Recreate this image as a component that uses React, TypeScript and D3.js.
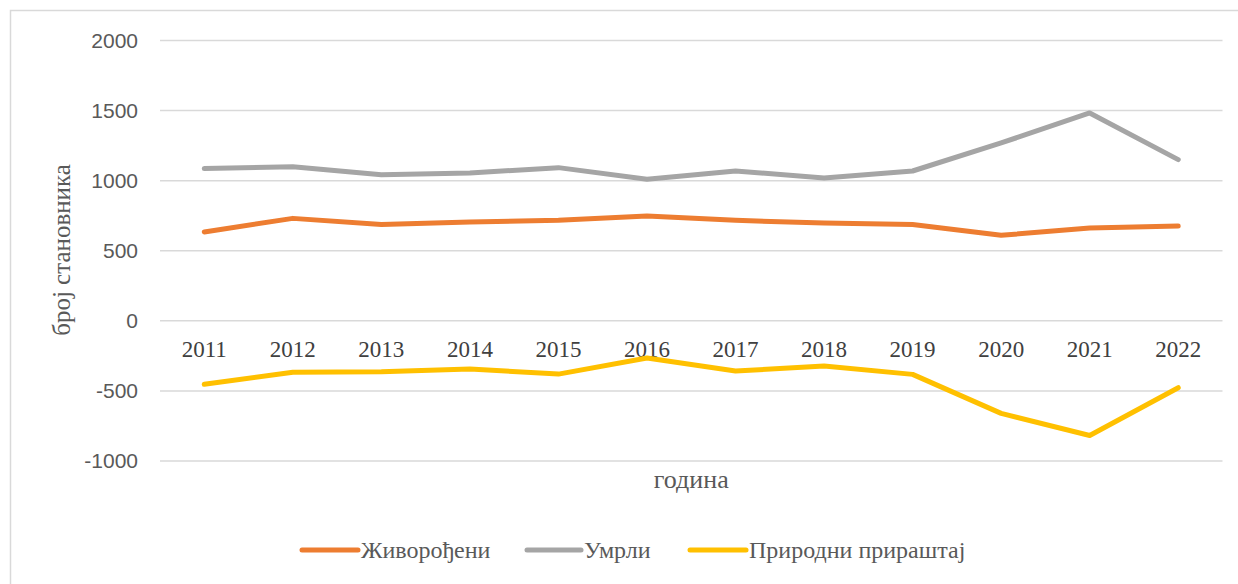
import React from "react";
import * as d3 from "d3";

const years = ["2011","2012","2013","2014","2015","2016","2017","2018","2019","2020","2021","2022"];
const births = [634, 731, 688, 705, 717, 748, 717, 698, 688, 610, 662, 676];
const deaths = [1086, 1100, 1043, 1055, 1093, 1010, 1069, 1019, 1069, 1269, 1483, 1150];
const natural = [-453, -367, -363, -344, -380, -265, -358, -322, -382, -660, -818, -477];
const yTicks = [-1000, -500, 0, 500, 1000, 1500, 2000];
const seriesNames = ["Живорођени", "Умрли", "Природни прираштај"];
const seriesColors = ["#ED7D31", "#A5A5A5", "#FFC000"];
const yTitle = "број становника";
const xTitle = "година";

export default function App() {
  const W = 1238, H = 584;
  const plotL = 160, plotR = 1222.5;
  const x = d3.scaleBand<string>().domain(years).range([plotL, plotR]);
  const y = d3.scaleLinear().domain([-1000, 2000]).range([461, 40.5]);
  const cx = (yr: string) => (x(yr) as number) + x.bandwidth() / 2;
  const line = d3.line<number>().x((_, i) => cx(years[i])).y((v) => y(v));
  const series = [births, deaths, natural];

  const legendItems = [
    { lx1: 302, lx2: 358, tx: 361 },
    { lx1: 527, lx2: 581, tx: 584 },
    { lx1: 690, lx2: 746, tx: 749 },
  ];

  return (
    <svg width={W} height={H} style={{ position: "absolute", left: 0, top: 0, background: "#fff" }}>
      <rect x={10.5} y={10.5} width={1240} height={600} fill="#fff" stroke="#d9d9d9" strokeWidth={1.5} />
      {yTicks.map((t) => (
        <g key={t}>
          <line x1={plotL} x2={plotR} y1={y(t)} y2={y(t)} stroke="#d9d9d9" strokeWidth={1.5} />
          <text x={138} y={y(t)} dy="0.35em" textAnchor="end" fontFamily="Liberation Sans, Arial, sans-serif" fontSize={21} fill="#595959">{t}</text>
        </g>
      ))}
      {years.map((yr) => (
        <text key={yr} x={cx(yr)} y={357} textAnchor="middle" fontFamily="Liberation Serif, Times New Roman, serif" fontSize={23} fill="#404040">{yr}</text>
      ))}
      {series.map((s, i) => (
        <path key={i} d={line(s) || ""} fill="none" stroke={seriesColors[i]} strokeWidth={5} strokeLinecap="round" strokeLinejoin="round" />
      ))}
      <text transform="translate(70,250) rotate(-90)" textAnchor="middle" fontFamily="Liberation Serif, Times New Roman, serif" fontSize={25} fill="#595959">{yTitle}</text>
      <text x={(plotL + plotR) / 2} y={488} textAnchor="middle" fontFamily="Liberation Serif, Times New Roman, serif" fontSize={26} fill="#595959">{xTitle}</text>
      {legendItems.map((it, i) => (
        <g key={i}>
          <line x1={it.lx1} x2={it.lx2} y1={550} y2={550} stroke={seriesColors[i]} strokeWidth={5} strokeLinecap="round" />
          <text x={it.tx} y={550} dy="0.33em" fontFamily="Liberation Serif, Times New Roman, serif" fontSize={24} fill="#595959">{seriesNames[i]}</text>
        </g>
      ))}
    </svg>
  );
}
